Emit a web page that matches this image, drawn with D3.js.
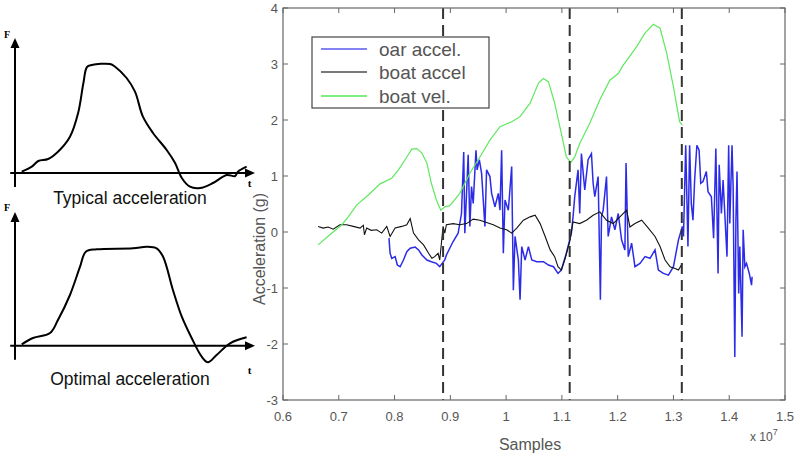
<!DOCTYPE html>
<html><head><meta charset="utf-8">
<script src="https://cdn.jsdelivr.net/npm/d3@7"></script>
<style>body{margin:0;background:#fff}svg{display:block}</style>
</head><body>
<script>
// ---- Left sketches (t normalized 0..1, F relative units) ----
const typicalCurve = [[0.028,0.013],[0.070,0.063],[0.097,0.12],[0.138,0.14],[0.179,0.213],[0.229,0.363],[0.263,0.60],[0.285,0.90],[0.300,1.06],[0.320,1.08],[0.396,1.09],[0.417,1.063],[0.465,0.95],[0.5,0.813],[0.533,0.563],[0.575,0.40],[0.632,0.23],[0.667,0.10],[0.695,-0.05],[0.729,-0.137],[0.771,-0.15],[0.825,-0.10],[0.882,-0.02],[0.917,-0.03],[0.929,0.013],[0.965,0.063]];
const optimalCurve = [[0.028,0.014],[0.075,0.077],[0.146,0.127],[0.179,0.257],[0.229,0.507],[0.271,0.79],[0.295,0.94],[0.340,0.964],[0.492,0.974],[0.549,0.99],[0.590,0.974],[0.617,0.89],[0.658,0.557],[0.695,0.29],[0.736,0.077],[0.778,-0.11],[0.804,-0.166],[0.840,-0.093],[0.896,0.024],[0.965,0.084]];
const sketchTitles = ["Typical acceleration","Optimal acceleration"];

// ---- Main chart (samples in units of 1e7, acceleration in g) ----
const xTicks = [0.6,0.7,0.8,0.9,1,1.1,1.2,1.3,1.4,1.5];
const yTicks = [-3,-2,-1,0,1,2,3,4];
const strokeMarks = [0.887,1.114,1.315];
const legendLabels = ["oar accel.","boat accel","boat vel."];

const oarAccel = [[0.790,-0.11],[0.792,-0.38],[0.795,-0.47],[0.801,-0.44],[0.805,-0.59],[0.810,-0.62],[0.816,-0.5],[0.822,-0.35],[0.828,-0.29],[0.837,-0.27],[0.843,-0.32],[0.849,-0.41],[0.858,-0.5],[0.866,-0.53],[0.875,-0.56],[0.881,-0.62],[0.890,-0.5],[0.893,-0.41],[0.905,-0.17],[0.914,-0.02],[0.920,0.33],[0.924,1.43],[0.926,-0.02],[0.932,1.38],[0.935,0.1],[0.938,0.81],[0.941,0.51],[0.946,1.46],[0.948,1.11],[0.952,1.29],[0.956,1.05],[0.962,0.1],[0.965,1.11],[0.971,0.99],[0.974,0.69],[0.980,0.45],[0.986,0.69],[0.989,0.39],[0.992,1.46],[0.995,-0.38],[0.998,0.57],[1.004,0.39],[1.010,1.17],[1.013,-1.04],[1.016,-0.08],[1.022,-0.5],[1.025,-1.21],[1.028,-0.26],[1.034,-0.5],[1.040,-0.26],[1.046,-0.5],[1.055,-0.53],[1.067,-0.53],[1.076,-0.59],[1.085,-0.62],[1.093,-0.74],[1.099,-0.68],[1.108,-0.38],[1.117,-0.02],[1.120,0.27],[1.123,0.63],[1.129,1.11],[1.132,0.33],[1.135,1.40],[1.141,0.75],[1.147,1.29],[1.153,1.40],[1.156,0.87],[1.159,0.63],[1.165,0.99],[1.169,-1.21],[1.171,0.27],[1.174,0.39],[1.180,0.99],[1.183,-0.08],[1.189,0.27],[1.195,0.04],[1.201,0.33],[1.207,-0.14],[1.213,-0.32],[1.215,1.23],[1.219,-0.44],[1.225,-0.2],[1.231,-0.62],[1.240,-0.56],[1.249,-0.44],[1.258,-0.47],[1.267,-0.32],[1.273,-0.68],[1.282,-0.74],[1.291,-0.77],[1.300,-0.62],[1.309,-0.14],[1.316,0.1],[1.318,-0.08],[1.322,1.55],[1.326,-0.26],[1.329,1.55],[1.332,0.51],[1.335,0.21],[1.338,0.93],[1.342,1.55],[1.346,1.46],[1.349,0.87],[1.353,0.9],[1.359,1.08],[1.362,0.72],[1.368,0.63],[1.372,-0.11],[1.376,1.49],[1.380,-0.74],[1.382,1.20],[1.386,0.33],[1.389,0.93],[1.396,-0.44],[1.399,1.55],[1.401,0.15],[1.405,1.55],[1.407,0.81],[1.410,-2.23],[1.412,0.21],[1.414,1.08],[1.417,-1.10],[1.419,-0.26],[1.423,-1.87],[1.425,0.04],[1.428,-0.62],[1.431,-0.56],[1.436,-0.74],[1.440,-0.95],[1.441,-0.80]];

const boatAccel = [[0.663,0.10],[0.672,0.07],[0.681,0.09],[0.690,0.05],[0.702,0.13],[0.714,0.13],[0.726,0.10],[0.738,0.07],[0.744,0.12],[0.746,-0.05],[0.750,0.07],[0.758,0.03],[0.768,0.04],[0.777,-0.02],[0.786,0.10],[0.792,-0.08],[0.801,0.07],[0.813,0.10],[0.822,0.13],[0.828,0.24],[0.834,-0.02],[0.843,-0.14],[0.852,-0.23],[0.861,-0.38],[0.867,-0.47],[0.872,-0.44],[0.878,-0.38],[0.881,-0.50],[0.884,-0.20],[0.887,0.10],[0.890,-0.02],[0.893,0.13],[0.905,0.15],[0.917,0.13],[0.929,0.15],[0.941,0.23],[0.953,0.21],[0.965,0.17],[0.977,0.13],[0.989,0.07],[1.001,0.04],[1.010,-0.02],[1.019,0.07],[1.031,0.21],[1.043,0.27],[1.052,0.30],[1.061,0.15],[1.070,-0.08],[1.079,-0.32],[1.087,-0.44],[1.093,-0.62],[1.099,-0.68],[1.105,-0.5],[1.114,-0.17],[1.120,0.18],[1.132,0.15],[1.144,0.21],[1.156,0.30],[1.168,0.36],[1.180,0.21],[1.192,0.15],[1.204,0.27],[1.216,0.39],[1.222,0.09],[1.231,0.15],[1.243,0.21],[1.255,0.07],[1.267,-0.08],[1.276,-0.26],[1.285,-0.5],[1.294,-0.62],[1.303,-0.65],[1.309,-0.68],[1.316,-0.56]];

const boatVel = [[0.663,-0.23],[0.684,-0.05],[0.705,0.125],[0.717,0.27],[0.732,0.48],[0.753,0.66],[0.774,0.86],[0.795,0.96],[0.807,1.11],[0.822,1.34],[0.831,1.48],[0.840,1.49],[0.849,1.41],[0.858,1.23],[0.866,0.87],[0.875,0.57],[0.883,0.39],[0.890,0.45],[0.899,0.47],[0.917,0.69],[0.935,1.05],[0.953,1.34],[0.971,1.64],[0.989,1.88],[1.010,1.97],[1.025,2.06],[1.043,2.30],[1.058,2.66],[1.067,2.74],[1.076,2.68],[1.087,2.30],[1.099,1.76],[1.108,1.34],[1.116,1.24],[1.123,1.34],[1.132,1.58],[1.150,1.94],[1.168,2.36],[1.186,2.71],[1.201,2.83],[1.210,2.98],[1.219,3.10],[1.234,3.31],[1.249,3.55],[1.264,3.71],[1.276,3.64],[1.288,3.19],[1.300,2.59],[1.311,1.97],[1.316,1.91]];

const colors = {oar:"#1414e6", boat:"#111111", vel:"#5fe85f"};
const FONT = "Liberation Sans, Arial, Helvetica, sans-serif";

const W = 796, H = 457;
const svg = d3.select("body").append("svg").attr("width",W).attr("height",H);

// ---------- Left sketches ----------
function sketch(curve, axisY, topY, title, titleY, tLabelY, fLabelY){
  const g = svg.append("g");
  const sx = d3.scaleLinear().domain([0,1]).range([15,255]);
  const sy = d3.scaleLinear().domain([0,1]).range([axisY, axisY-100]);
  g.append("line").attr("x1",sx(-0.02)).attr("x2",sx(0.985)).attr("y1",axisY).attr("y2",axisY).attr("stroke","#000").attr("stroke-width",2);
  g.append("line").attr("x1",15).attr("x2",15).attr("y1",axisY+14).attr("y2",topY+8).attr("stroke","#000").attr("stroke-width",2);
  g.append("path").attr("d",`M${sx(1)},${axisY} l-10,-4.5 l0,9 z`).attr("fill","#000");
  g.append("path").attr("d",`M15,${topY} l-4.5,10 l9,0 z`).attr("fill","#000");
  g.append("path").datum(curve)
    .attr("d", d3.line().x(d=>sx(d[0])).y(d=>sy(d[1])).curve(d3.curveCatmullRom.alpha(0.5)))
    .attr("fill","none").attr("stroke","#000").attr("stroke-width",2).attr("stroke-linejoin","round");
  g.append("text").attr("x",4).attr("y",fLabelY).text("F")
    .attr("font-family","Liberation Serif, Times New Roman, serif").attr("font-weight","bold").attr("font-size",10);
  g.append("text").attr("x",sx(0.97)).attr("y",tLabelY).text("t")
    .attr("font-family","Liberation Serif, Times New Roman, serif").attr("font-weight","bold").attr("font-size",11);
  g.append("text").attr("x",130).attr("y",titleY).attr("text-anchor","middle").text(title)
    .attr("font-family",FONT).attr("font-size",17.5).attr("fill","#111");
}
sketch(typicalCurve, 173, 38, sketchTitles[0], 204, 187, 38);
sketch(optimalCurve, 345.7, 212, sketchTitles[1], 385, 374, 211);

// ---------- Main chart ----------
const x = d3.scaleLinear().domain([0.6,1.5]).range([283,785]);
const y = d3.scaleLinear().domain([-3,4]).range([400,8]);
const frame = "#666";
const mg = svg.append("g");

mg.append("rect").attr("x",283).attr("y",8).attr("width",502).attr("height",392).attr("fill","#fff");

const tl = 5;
xTicks.forEach(t=>{
  mg.append("line").attr("x1",x(t)).attr("x2",x(t)).attr("y1",400).attr("y2",400-tl).attr("stroke",frame);
  mg.append("line").attr("x1",x(t)).attr("x2",x(t)).attr("y1",8).attr("y2",8+tl).attr("stroke",frame);
  mg.append("text").attr("x",x(t)).attr("y",421).attr("text-anchor","middle").text(d3.format("~g")(t))
    .attr("font-family",FONT).attr("font-size",13).attr("fill","#555");
});
yTicks.forEach(t=>{
  mg.append("line").attr("x1",283).attr("x2",283+tl).attr("y1",y(t)).attr("y2",y(t)).attr("stroke",frame);
  mg.append("line").attr("x1",785).attr("x2",785-tl).attr("y1",y(t)).attr("y2",y(t)).attr("stroke",frame);
  mg.append("text").attr("x",278).attr("y",y(t)+5).attr("text-anchor","end").text(t)
    .attr("font-family",FONT).attr("font-size",13).attr("fill","#555");
});

const line = d3.line().x(d=>x(d[0])).y(d=>y(d[1]));
mg.append("path").datum(oarAccel).attr("d",line).attr("fill","none").attr("stroke",colors.oar).attr("stroke-width",1.5).attr("stroke-opacity",0.9);
mg.append("path").datum(boatAccel).attr("d",line).attr("fill","none").attr("stroke",colors.boat).attr("stroke-width",1.1);
mg.append("path").datum(boatVel).attr("d",line).attr("fill","none").attr("stroke",colors.vel).attr("stroke-width",1.2);

strokeMarks.forEach(s=>{
  mg.append("line").attr("x1",x(s)).attr("x2",x(s)).attr("y1",y(4)).attr("y2",y(-3))
    .attr("stroke","#333").attr("stroke-width",2).attr("stroke-dasharray","11,6");
});

mg.append("rect").attr("x",283).attr("y",8).attr("width",502).attr("height",392).attr("fill","none").attr("stroke",frame).attr("stroke-width",1.2);

const lg = mg.append("g");
lg.append("rect").attr("x",312).attr("y",37).attr("width",177).attr("height",71).attr("fill","#fff").attr("stroke","#444").attr("stroke-width",1.2);
const legCols = [colors.oar, colors.boat, colors.vel];
const legLineY = [49, 72, 96];
legendLabels.forEach((lab,i)=>{
  lg.append("line").attr("x1",321).attr("x2",367).attr("y1",legLineY[i]).attr("y2",legLineY[i]).attr("stroke",legCols[i]).attr("stroke-width",i===2?2:1.5).attr("stroke-opacity",i===0?0.7:(i===1?0.75:0.8));
  lg.append("text").attr("x",379).attr("y",legLineY[i]+7).text(lab)
    .attr("font-family",FONT).attr("font-size",19).attr("fill","#555");
});

mg.append("text").attr("x",530).attr("y",450).attr("text-anchor","middle").text("Samples")
  .attr("font-family",FONT).attr("font-size",16).attr("fill","#555");
mg.append("text").attr("transform","translate(265,249) rotate(-90)").attr("text-anchor","middle").text("Acceleration (g)")
  .attr("font-family",FONT).attr("font-size",16).attr("fill","#555");
const mult = mg.append("text").attr("x",750).attr("y",441).attr("font-family",FONT).attr("font-size",12).attr("fill","#555");
mult.append("tspan").text("x 10");
mult.append("tspan").attr("dy",-6).attr("font-size",9).text("7");
</script>
</body></html>
